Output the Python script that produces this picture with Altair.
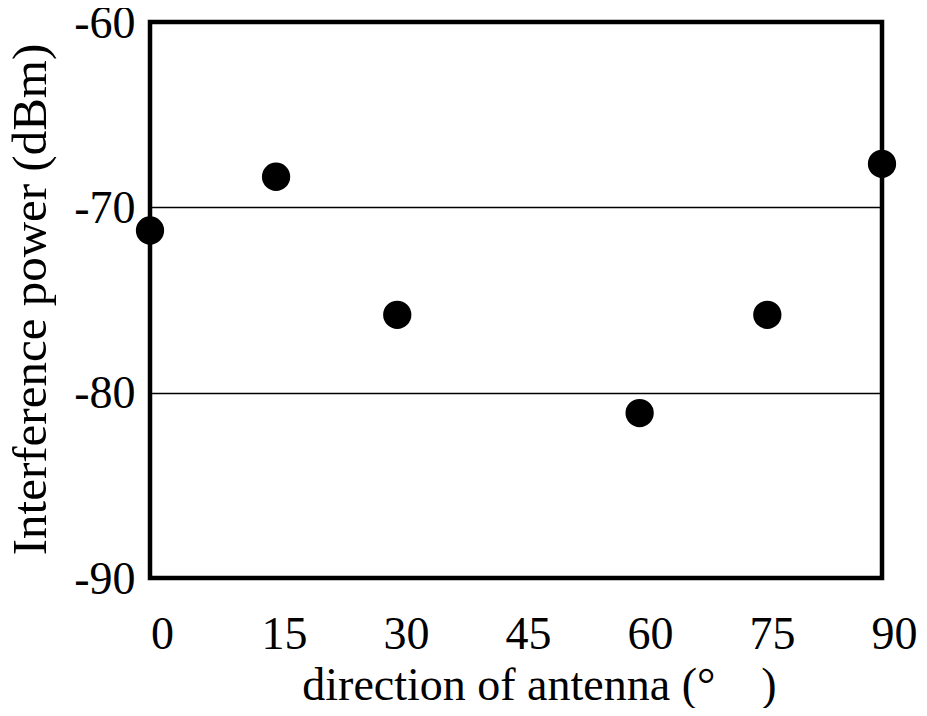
import altair as alt
import pandas as pd

# data
angle = [0, 15.5, 30.4, 60.2, 75.9, 90]
power = [-71.25, -68.35, -75.8, -81.1, -75.8, -67.65]
x_ticks = [0, 15, 30, 45, 60, 75, 90]
y_ticks = [-90, -80, -70, -60]

df = pd.DataFrame({"angle": angle, "power": power})

FONT = "Liberation Serif"

chart = alt.Chart(df).mark_circle(size=800, color="black", opacity=1).encode(
    x=alt.X(
        "angle:Q",
        scale=alt.Scale(domain=[0, 90], nice=False, zero=False),
        axis=alt.Axis(
            values=x_ticks, title="direction of antenna (°\u00a0\u00a0\u00a0\u00a0)",
            grid=False, domain=False, ticks=False, tickSize=0,
            labelOffset=12, labelPadding=70, labelBaseline="alphabetic",
            labelExpr="'' + datum.value",
            labelFontSize=46, labelFont=FONT, labelColor="black", labelFlush=False,
            titleFontSize=46, titleFont=FONT, titleFontWeight="normal", titleColor="black",
            titleX=389, titleY=121, titleBaseline="alphabetic", titleAlign="center",
        ),
    ),
    y=alt.Y(
        "power:Q",
        scale=alt.Scale(domain=[-90, -60], nice=False, zero=False),
        axis=alt.Axis(
            values=y_ticks, title="Interference power (dBm)",
            grid=True, gridColor="black", gridWidth=1.5, gridOpacity=1,
            domain=False, ticks=False, tickSize=0,
            labelPadding=15, labelOffset=1,
            labelExpr="'' + datum.value",
            labelFontSize=46, labelFont=FONT, labelColor="black",
            titleFontSize=49, titleFont=FONT, titleFontWeight="normal", titleColor="black",
            titleX=-105, titleY=277, titleBaseline="alphabetic", titleAlign="center",
            titleAngle=270,
        ),
    ),
).properties(
    width=732,
    height=556,
    autosize=alt.AutoSizeParams(type="none"),
    padding={"left": 142, "top": 14, "right": 36, "bottom": 130},
).configure_view(stroke="black", strokeWidth=4.5)

chart.save("out.html", embed_options={"renderer": "svg", "actions": False})
